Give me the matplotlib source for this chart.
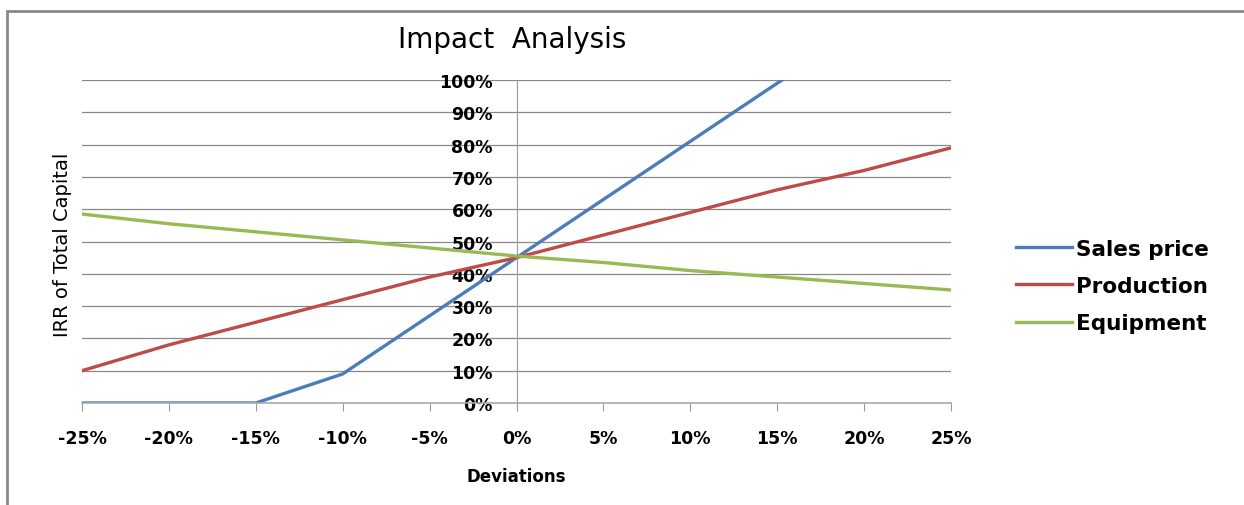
import matplotlib
matplotlib.use('Agg')
from matplotlib import pyplot as plt
from matplotlib.patches import Rectangle
from matplotlib.ticker import FuncFormatter

deviations = [-25, -20, -15, -10, -5, 0, 5, 10, 15, 20, 25]
sales_price = [0, 0, 0, 9, 27, 45, 63, 81, 99, 117, 135]
production = [10, 18, 25, 32, 39, 45, 52, 59, 66, 72, 79]
equipment = [58.5, 55.5, 53, 50.5, 48, 45.5, 43.5, 41, 39, 37, 35]

fig = plt.figure(figsize=(12.44, 5.06), dpi=100)
ax = fig.add_axes([82/1244, 1-404/506, (951-82)/1244, (404-81)/506])

# chart border (clipped at right/bottom like the screenshot)
fig.patches.append(Rectangle((7/1244, -0.1), 1.2, 1-12/506+0.1, transform=fig.transFigure,
                             fill=False, edgecolor='#888888', linewidth=2))

ax.plot(deviations, sales_price, color='#4a7ebb', lw=2.4, label='Sales price')
ax.plot(deviations, production, color='#be4b48', lw=2.4, label='Production')
ax.plot(deviations, equipment, color='#98b954', lw=2.4, label='Equipment')

ax.set_xlim(-25, 25)
ax.set_ylim(0, 100)
ax.set_xticks(range(-25, 30, 5))
ax.set_yticks(range(0, 110, 10))
pct = FuncFormatter(lambda v, p: '%d%%' % v)
ax.xaxis.set_major_formatter(pct)
ax.yaxis.set_major_formatter(pct)

ax.grid(axis='y', color='#888888', lw=0.9)
ax.set_axisbelow(True)
for s in ['top', 'right']:
    ax.spines[s].set_visible(False)
ax.spines['left'].set_position(('data', 0))
ax.spines['left'].set_color('#999999')
ax.spines['bottom'].set_color('#aaaaaa')
ax.spines['bottom'].set_linewidth(1.2)

ax.tick_params(axis='y', length=0, pad=17)
ax.tick_params(axis='x', length=6, color='#999999', direction='out', pad=13)
for lab in ax.get_xticklabels() + ax.get_yticklabels():
    lab.set_fontsize(12.5)
    lab.set_fontweight('bold')
    lab.set_family('DejaVu Sans')

fig.text(512/1244, 1-40/506, 'Impact  Analysis', ha='center', va='center',
         fontsize=20, family='DejaVu Sans')
fig.text(516/1244, 1-477/506, 'Deviations', ha='center', va='center',
         fontsize=12, fontweight='bold', family='DejaVu Sans')
fig.text(62/1244, 1-245/506, 'IRR of Total Capital', ha='center', va='center',
         rotation=90, fontsize=14, family=['Liberation Sans Narrow', 'DejaVu Sans'])

fig.legend(loc='center left', bbox_to_anchor=(997/1244, 1-287/506), frameon=False,
           prop={'family': 'DejaVu Sans', 'weight': 'bold', 'size': 15.5},
           handlelength=2.6, handletextpad=0.15, labelspacing=0.8)

plt.savefig('out.png', dpi=100)
